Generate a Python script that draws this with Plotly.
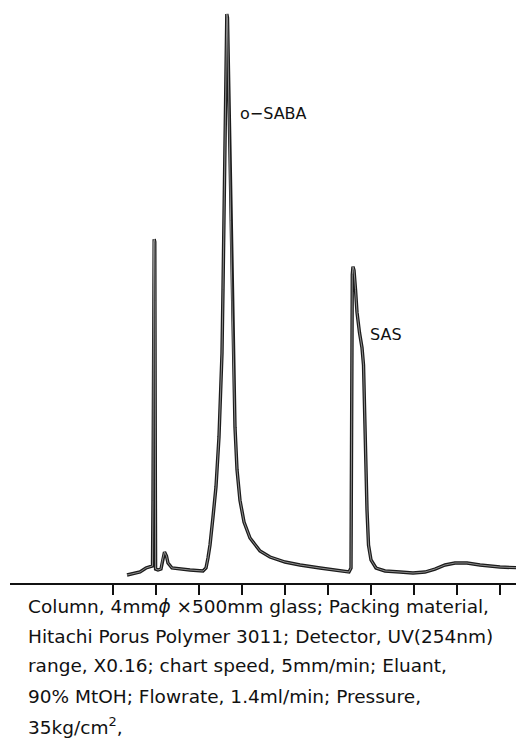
import plotly.graph_objects as go

# Retention axis (chart units, one tick per unit) and detector response (arbitrary units)
time = [0.326, 0.465, 0.628, 0.767, 0.860, 0.919, 0.930, 0.937, 0.944, 0.958, 0.972, 0.979,
        0.986, 0.991, 1.047, 1.116, 1.151, 1.198, 1.244, 1.279, 1.372, 1.558, 1.791, 2.093,
        2.163, 2.209, 2.256, 2.326, 2.395, 2.465, 2.512, 2.535, 2.558, 2.581, 2.605, 2.623,
        2.635, 2.647, 2.663, 2.681, 2.707, 2.735, 2.767, 2.802, 2.837, 2.884, 2.953, 3.047,
        3.186, 3.419, 3.651, 4.000, 4.349, 4.814, 5.279, 5.488, 5.535, 5.544, 5.553, 5.565,
        5.581, 5.605, 5.640, 5.674, 5.733, 5.791, 5.826, 5.860, 5.907, 5.942, 6.000, 6.116,
        6.326, 6.674, 6.977, 7.256, 7.488, 7.721, 7.953, 8.233, 8.535, 9.000, 9.558]
signal = [1.39, 1.57, 1.91, 2.61, 2.78, 2.96, 14.4, 49.2, 59.3, 59.8, 59.3, 49.2,
          14.4, 2.43, 2.26, 2.43, 4.00, 5.39, 4.70, 3.48, 2.61, 2.43, 2.26, 2.09,
          2.61, 4.35, 6.61, 11.5, 16.7, 25.4, 33.6, 40.0, 51.0, 63.1, 78.3, 91.0,
          97.0, 98.96, 98.3, 91.0, 78.3, 63.1, 49.2, 37.0, 27.1, 19.7, 14.4, 10.6,
          7.83, 5.57, 4.52, 3.65, 3.13, 2.61, 2.09, 1.91, 2.61, 23.1, 44.0, 53.6,
          55.0, 54.4, 51.0, 47.1, 43.5, 40.9, 37.9, 26.6, 12.7, 6.6, 4.0, 2.61,
          2.09, 1.91, 1.74, 1.91, 2.43, 3.13, 3.48, 3.48, 3.13, 2.78, 2.61]

tick_positions = [0, 1, 2, 3, 4, 5, 6, 7, 8, 9]

peak_labels = ["o\u2212SABA", "SAS"]
label_time = [2.91, 5.93]
label_signal = [81.7, 43.3]

caption_lines = [
    "Column, 4mm<i>\u03d5</i> \u00d7500mm glass; Packing material,",
    "Hitachi Porus Polymer 3011; Detector, UV(254nm)",
    "range, X0.16; chart speed, 5mm/min; Eluant,",
    "90% MtOH; Flowrate, 1.4ml/min; Pressure,",
    "35kg/cm<sup>2</sup>,",
]
caption_y_px = [606, 636, 666, 696, 726]

fig = go.Figure()
fig.add_trace(go.Scatter(x=time, y=signal, mode="lines",
                         line=dict(color="#1c1c1c", width=3.4),
                         hoverinfo="skip", showlegend=False))
fig.add_trace(go.Scatter(x=time, y=signal, mode="lines",
                         line=dict(color="#8c8c8c", width=1.0),
                         hoverinfo="skip", showlegend=False))

for txt, xv, yv in zip(peak_labels, label_time, label_signal):
    fig.add_annotation(x=xv, y=yv, xref="x", yref="y", text=txt, showarrow=False,
                       xanchor="left", yanchor="middle",
                       font=dict(family="DejaVu Sans", size=16, color="#111"))

H_PLOT = 575.0
for txt, py in zip(caption_lines, caption_y_px):
    fig.add_annotation(x=(26 - 10) / 514.0, y=(583 - py) / H_PLOT, xref="paper", yref="paper",
                       text=txt, showarrow=False, xanchor="left", yanchor="middle",
                       font=dict(family="DejaVu Sans", size=18.5, color="#111"))

fig.update_layout(
    width=516, height=745,
    margin=dict(l=2, r=0, t=0, b=170),
    paper_bgcolor="white", plot_bgcolor="white",
    xaxis=dict(range=[-2.395, 9.558], showline=True, linecolor="#111", linewidth=1.6,
               ticks="outside", ticklen=10, tickwidth=1.6, tickcolor="#111",
               tickvals=tick_positions, showticklabels=False, showgrid=False, zeroline=False),
    yaxis=dict(range=[0, 100], visible=False, showgrid=False, zeroline=False),
)

fig.write_html("out.html")
